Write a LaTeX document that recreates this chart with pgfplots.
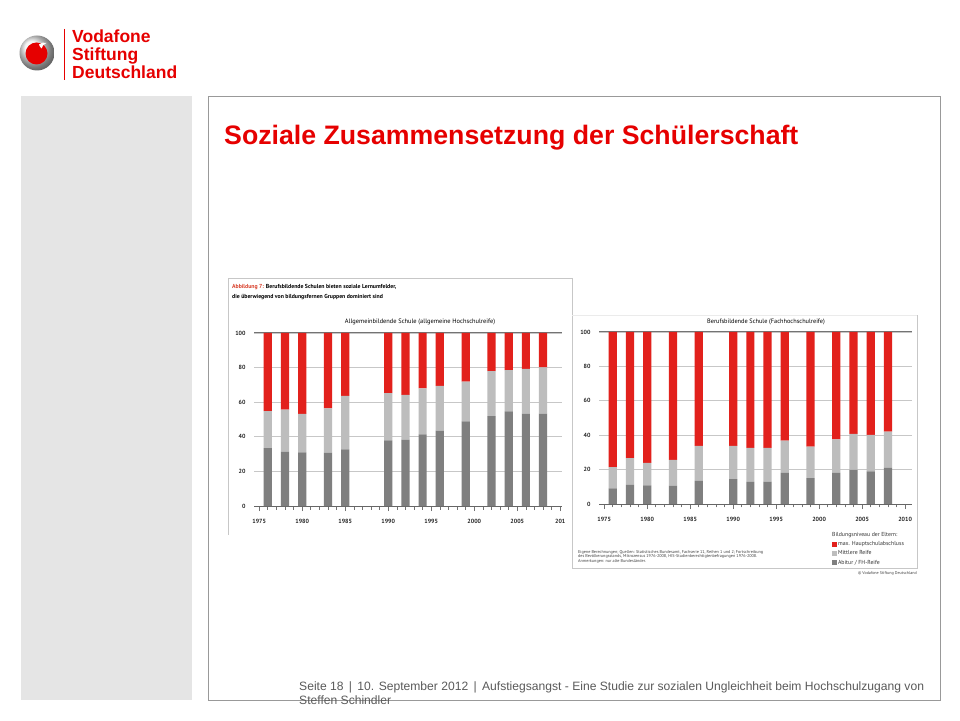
\documentclass[border=0pt]{standalone}
\usepackage{fontspec}
\setmainfont{Liberation Sans}
\newfontfamily\chartfont{PT Sans}
\usepackage{pgfplots}
\usepackage{pgfplotstable}
\pgfplotsset{compat=1.18}

\definecolor{vfred}{HTML}{E60000}
\definecolor{abbred}{HTML}{D9402B}
\definecolor{bardark}{HTML}{7F7F7F}
\definecolor{barlight}{HTML}{BDBDBD}
\definecolor{barred}{HTML}{E2211C}
\definecolor{footgrey}{HTML}{5A5A5A}
\definecolor{panelgrey}{HTML}{E5E5E5}

% year, Abitur/FH-Reife, Mittlere Reife, max. Hauptschulabschluss (in %)
\pgfplotstableread{
year dark mid red
1976 33.5 21.4 45.1
1978 31.4 24.3 44.3
1980 31.0 22.2 46.8
1983 30.8 25.7 43.5
1985 32.8 30.8 36.4
1990 38.0 27.3 34.7
1992 38.3 25.9 35.8
1994 41.4 26.6 32.0
1996 43.5 25.9 30.6
1999 48.9 23.0 28.1
2002 52.0 26.0 22.0
2004 54.7 23.9 21.4
2006 53.4 25.8 20.8
2008 53.4 26.8 19.8
}\allgemein

\pgfplotstableread{
year dark mid red
1976  9.1 12.3 78.6
1978 11.1 15.5 73.4
1980 10.9 13.0 76.1
1983 10.7 14.9 74.4
1986 13.4 20.4 66.2
1990 14.4 19.4 66.2
1992 12.8 19.8 67.4
1994 13.0 19.6 67.4
1996 18.1 18.8 63.1
1999 15.0 18.4 66.6
2002 18.1 19.4 62.5
2004 19.8 21.0 59.2
2006 19.0 21.2 59.8
2008 21.0 21.1 57.9
}\berufs

\pgfplotsset{
  schule/.style={
    scale only axis,
    ybar stacked,
    bar width=8.2pt,
    ymin=0, ymax=100,
    ytick={0,20,...,100},
    axis x line*=bottom,
    axis y line*=left,
    y axis line style={draw=none},
    ytick style={draw=none},
    x axis line style={draw=black!60, line width=0.9pt},
    ymajorgrids,
    major grid style={black!22, line width=0.7pt},
    extra y ticks={100},
    extra y tick labels={},
    extra y tick style={major grid style={black!55, line width=1pt}},
    xtick={1975,1980,...,2010},
    minor x tick num=4,
    tick align=outside,
    major tick length=5pt,
    minor tick length=3.5pt,
    every tick/.style={black!55, line width=0.6pt},
    /pgf/number format/assume math mode=true,
    /pgf/number format/1000 sep={},
    tick label style={font=\chartfont\bfseries\fontsize{6}{7}\selectfont, text=black!85},
    xticklabel style={yshift=-5pt},
    every axis plot/.append style={draw=none},
    clip=false,
  }
}

\begin{document}
\begin{tikzpicture}[x=1pt,y=1pt]
\useasboundingbox (0,0) rectangle (960,720);
\fill[white] (0,0) rectangle (960,720);

\begin{scope}[y=-1pt,yshift=720pt]
  % logo
  \shade[ball color=black!6] (37,53) circle (17.5);
  \fill[vfred] (36.5,53.5) circle (11);
  \fill[white] (39,44.5) .. controls (41,42.5) and (44,42) .. (46.5,43)
     .. controls (44,44) and (42,46) .. (41.5,48.5) .. controls (40.5,47.5) and (39.5,46) .. cycle;
  \draw[vfred, line width=1pt] (64,29) -- (64,80);
  \node[anchor=base west, inner sep=0pt, text=vfred, font=\bfseries\fontsize{17.5}{18}\selectfont] at (72,43) {Vodafone};
  \node[anchor=base west, inner sep=0pt, text=vfred, font=\bfseries\fontsize{17.5}{18}\selectfont] at (72,61) {Stiftung};
  \node[anchor=base west, inner sep=0pt, text=vfred, font=\bfseries\fontsize{17.5}{18}\selectfont] at (72,79) {Deutschland};

  % side panel and frame
  \fill[panelgrey] (21,96) rectangle (192,700);
  \draw[black!40, line width=0.8pt] (208,96) rectangle (940,700);

  % slide title
  \node[anchor=base west, inner sep=0pt, text=vfred, font=\bfseries\fontsize{26.7}{30}\selectfont] at (224,145)
    {Soziale Zusammensetzung der Schülerschaft};

  % footer
  \node[anchor=base west, inner sep=0pt, text=footgrey, font=\fontsize{12.1}{14}\selectfont] at (299,690)
    {Seite 18 \,|\, 10. September 2012 \,|\, Aufstiegsangst - Eine Studie zur sozialen Ungleichheit beim Hochschulzugang von};
  \node[anchor=base west, inner sep=0pt, text=footgrey, font=\fontsize{12.1}{14}\selectfont] at (299,704)
    {Steffen Schindler};

  % figure frames
  \draw[black!22, line width=0.8pt] (228,535) -- (228,278) -- (573,278);
  \draw[black!22, line width=0.8pt] (572,278) -- (572,568) -- (917,568) -- (917,315);
  \draw[black!8, line width=0.6pt] (572,315) -- (917,315);

  % figure caption
  \node[anchor=base west, inner sep=0pt, font=\chartfont\bfseries\fontsize{5.8}{7}\selectfont] at (232,288.5)
    {\textcolor{abbred}{Abbildung 7:} Berufsbildende Schulen bieten soziale Lernumfelder,};
  \node[anchor=base west, inner sep=0pt, font=\chartfont\bfseries\fontsize{5.8}{7}\selectfont] at (232,299)
    {die überwiegend von bildungsfernen Gruppen dominiert sind};

  % panel titles
  \node[inner sep=0pt, font=\chartfont\fontsize{6.4}{7}\selectfont] at (420,322)
    {Allgemeinbildende Schule (allgemeine Hochschulreife)};
  \node[inner sep=0pt, font=\chartfont\fontsize{6.3}{7}\selectfont] at (766,322)
    {Berufsbildende Schule (Fachhochschulreife)};

  % sources
  \node[anchor=west, inner sep=0pt, font=\chartfont\fontsize{4.2}{5}\selectfont, text=black!75] at (578,552)
    {Eigene Berechnungen; Quellen: Statistisches Bundesamt, Fachserie 11, Reihen 1 und 2; Fortschreibung};
  \node[anchor=west, inner sep=0pt, font=\chartfont\fontsize{4.2}{5}\selectfont, text=black!75] at (578,556.5)
    {des Bevölkerungsstands, Mikrozensus 1976-2008, HIS-Studienberechtigtenbefragungen 1976-2008.};
  \node[anchor=west, inner sep=0pt, font=\chartfont\fontsize{4.2}{5}\selectfont, text=black!75] at (578,561)
    {Anmerkungen: nur alte Bundesländer.};
  \node[anchor=east, inner sep=0pt, font=\chartfont\fontsize{4.1}{5}\selectfont, text=black!75] at (917,573)
    {© Vodafone Stiftung Deutschland};

  % legend title
  \node[anchor=west, inner sep=0pt, font=\chartfont\fontsize{5.8}{7}\selectfont, text=black!80] at (832,535.5)
    {Bildungsniveau der Eltern:};
\end{scope}

% left panel: Allgemeinbildende Schule
\begin{axis}[schule,
  at={(254pt,214pt)}, anchor=south west,
  width=308pt, height=173pt,
  xmin=1974.4, xmax=2010.2,
  xticklabels={1975,1980,1985,1990,1995,2000,2005,201},
]
\addplot[fill=bardark] table[x=year,y=dark]{\allgemein};
\addplot[fill=barlight] table[x=year,y=mid]{\allgemein};
\addplot[fill=barred] table[x=year,y=red]{\allgemein};
\end{axis}

% right panel: Berufsbildende Schule
\begin{axis}[schule,
  at={(599pt,216pt)}, anchor=south west,
  width=313pt, height=172pt,
  xmin=1974.4, xmax=2010.8,
  reverse legend,
  legend cell align=left,
  legend style={at={(0.744,-0.212)}, anchor=north west, draw=none, fill=none,
    inner sep=0pt, row sep=1.6pt,
    font=\chartfont\fontsize{5.8}{7}\selectfont, text=black!80,
    nodes={inner sep=1pt}},
  legend image code/.code={\fill[#1] (0pt,-2.5pt) rectangle (5pt,2.5pt);},
]
\addplot[fill=bardark] table[x=year,y=dark]{\berufs};
\addlegendentry{Abitur / FH-Reife}
\addplot[fill=barlight] table[x=year,y=mid]{\berufs};
\addlegendentry{Mittlere Reife}
\addplot[fill=barred] table[x=year,y=red]{\berufs};
\addlegendentry{max. Hauptschulabschluss}
\end{axis}
\end{tikzpicture}
\end{document}
